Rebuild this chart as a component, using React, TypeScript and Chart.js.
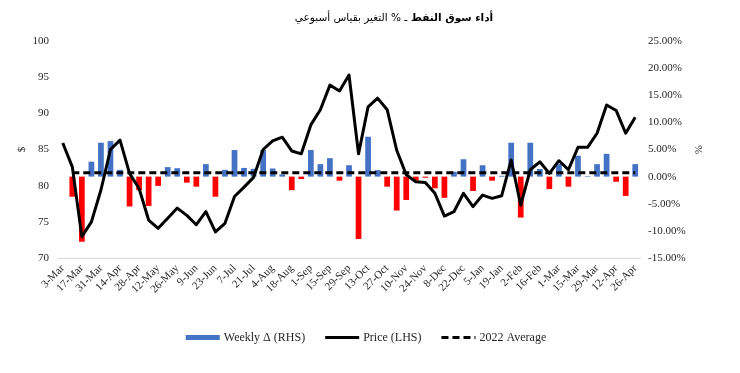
import React, { useEffect, useRef } from 'react';
import { Chart, registerables } from 'chart.js';

Chart.register(...registerables);

// ---- DATA ----
const weekLabels: string[] = [
  '3-Mar', '10-Mar', '17-Mar', '24-Mar', '31-Mar', '7-Apr', '14-Apr', '21-Apr', '28-Apr',
  '5-May', '12-May', '19-May', '26-May', '2-Jun', '9-Jun', '16-Jun', '23-Jun', '30-Jun',
  '7-Jul', '14-Jul', '21-Jul', '28-Jul', '4-Aug', '11-Aug', '18-Aug', '25-Aug',
  '1-Sep', '8-Sep', '15-Sep', '22-Sep', '29-Sep', '6-Oct', '13-Oct', '20-Oct', '27-Oct',
  '3-Nov', '10-Nov', '17-Nov', '24-Nov', '1-Dec', '8-Dec', '15-Dec', '22-Dec', '29-Dec',
  '5-Jan', '12-Jan', '19-Jan', '26-Jan', '2-Feb', '9-Feb', '16-Feb', '23-Feb',
  '1-Mar', '8-Mar', '15-Mar', '22-Mar', '29-Mar', '5-Apr', '12-Apr', '19-Apr', '26-Apr',
];

const price: number[] = [
  85.9, 82.6, 72.95, 75.0, 79.4, 85.0, 86.3, 81.7, 79.6, 75.25,
  74.1, 75.5, 76.9, 75.9, 74.6, 76.4, 73.6, 74.8, 78.5, 79.8,
  81.15, 85.0, 86.2, 86.7, 84.8, 84.4, 88.4, 90.5, 93.9, 93.1,
  95.3, 84.4, 90.9, 92.1, 90.5, 84.9, 81.5, 80.55, 80.45, 78.95,
  75.8, 76.4, 78.95, 77.1, 78.7, 78.25, 78.6, 83.55, 77.3, 82.2,
  83.3, 81.7, 83.45, 82.2, 85.3, 85.3, 87.25, 91.15, 90.4, 87.25,
  89.45,
];

const weeklyChange: (number | null)[] = [
  null,
  -3.7, -12.0, 2.75, 6.25, 6.55, 1.25, -5.5, -2.5, -5.4, -1.7,
  1.75, 1.55, -1.1, -1.85, 2.3, -3.7, 1.25, 4.9, 1.6, 1.45,
  4.9, 1.5, 0.4, -2.5, -0.45, 4.9, 2.3, 3.4, -0.75, 2.1,
  -11.5, 7.35, 1.2, -1.85, -6.25, -4.3, -0.75, -0.2, -2.15, -3.9,
  0.9, 3.2, -2.65, 2.1, -0.75, 0.15, 6.25, -7.55, 6.25, 1.4,
  -2.3, 2.3, -1.85, 3.85, 0.1, 2.3, 4.2, -0.95, -3.55, 2.3,
];

const AVERAGE_2022 = 81.8;
const average2022: (number | null)[] = weekLabels.map((_, i) => (i === 0 ? null : AVERAGE_2022));

const TITLE_BOLD = 'أداء سوق النفط';
const TITLE_REST = 'ـ % التغير بقياس أسبوعي';
const LEGEND_LABELS = ['Weekly Δ (RHS)', 'Price (LHS)', '2022 Average'];
const LEFT_AXIS_TITLE = '$';
const RIGHT_AXIS_TITLE = '%';

const SERIF = '"Liberation Serif", "Times New Roman", serif';
const ARABIC = '"DejaVu Sans", sans-serif';
const BLUE = '#4472C4';
const RED = '#FF0000';
const TEXT = '#262626';

const titlePlugin = {
  id: 'customTitle',
  afterDraw(chart: any) {
    const ctx = chart.ctx as CanvasRenderingContext2D;
    ctx.save();
    ctx.fillStyle = '#000';
    ctx.textBaseline = 'middle';
    (ctx as any).direction = 'rtl';
    ctx.textAlign = 'right';
    const boldFont = 'bold 10.5px ' + ARABIC;
    const normFont = '10.5px ' + ARABIC;
    ctx.font = boldFont;
    const wBold = ctx.measureText(TITLE_BOLD + ' ').width;
    ctx.font = normFont;
    const wRest = ctx.measureText(TITLE_REST).width;
    const total = wBold + wRest;
    const cx = 394;
    const y = 18;
    const xRight = cx + total / 2;
    ctx.font = boldFont;
    ctx.fillText(TITLE_BOLD, xRight, y);
    ctx.font = normFont;
    ctx.fillText(TITLE_REST, xRight - wBold, y);
    ctx.restore();
  },
};

const legendPlugin = {
  id: 'customLegend',
  afterDraw(chart: any) {
    const ctx = chart.ctx as CanvasRenderingContext2D;
    ctx.save();
    ctx.font = '12px ' + SERIF;
    ctx.textBaseline = 'middle';
    ctx.textAlign = 'left';
    const sample = 34;
    const gap = 4;
    const spacing = 20;
    const widths = LEGEND_LABELS.map((t) => ctx.measureText(t).width);
    const total = widths.reduce((a, w) => a + sample + gap + w, 0) + spacing * (LEGEND_LABELS.length - 1);
    let x = 366 - total / 2;
    const y = 337.5;
    LEGEND_LABELS.forEach((label, i) => {
      if (i === 0) {
        ctx.fillStyle = BLUE;
        ctx.fillRect(x, y - 2.5, sample, 5);
      } else {
        ctx.strokeStyle = '#000';
        ctx.lineWidth = 3;
        ctx.setLineDash(i === 2 ? [7, 4] : []);
        ctx.beginPath();
        ctx.moveTo(x, y);
        ctx.lineTo(x + sample, y);
        ctx.stroke();
        ctx.setLineDash([]);
      }
      ctx.fillStyle = TEXT;
      ctx.fillText(label, x + sample + gap, y);
      x += sample + gap + widths[i] + spacing;
    });
    ctx.restore();
  },
};

export default function App() {
  const canvasRef = useRef<HTMLCanvasElement | null>(null);

  useEffect(() => {
    document.body.style.margin = '0';
    const canvas = canvasRef.current;
    if (!canvas) return;
    const chart = new Chart(canvas, {
      type: 'bar',
      data: {
        labels: weekLabels,
        datasets: [
          {
            type: 'line',
            label: 'Price (LHS)',
            data: price,
            yAxisID: 'y',
            borderColor: '#000',
            backgroundColor: '#000',
            borderWidth: 3,
            pointRadius: 0,
            tension: 0,
            fill: false,
            borderJoinStyle: 'round',
            order: 1,
          } as any,
          {
            type: 'line',
            label: '2022 Average',
            data: average2022,
            yAxisID: 'y',
            borderColor: '#000',
            borderWidth: 3,
            borderDash: [7, 4],
            pointRadius: 0,
            fill: false,
            order: 2,
          } as any,
          {
            type: 'bar',
            label: 'Weekly Δ (RHS)',
            data: weeklyChange,
            yAxisID: 'y1',
            backgroundColor: (c: any) => ((c.raw ?? 0) < 0 ? RED : BLUE),
            barPercentage: 0.6,
            categoryPercentage: 1,
            order: 3,
          } as any,
        ],
      },
      options: {
        responsive: false,
        animation: false,
        devicePixelRatio: 1,
        layout: { padding: { top: 41, left: 0, right: 0, bottom: 0 } },
        plugins: {
          legend: { display: false },
          title: { display: false },
          tooltip: { enabled: false },
        },
        scales: {
          x: {
            type: 'category',
            offset: true,
            grid: { display: false, drawTicks: false },
            border: { display: true, color: '#d9d9d9', width: 1 },
            ticks: {
              autoSkip: false,
              maxRotation: 45,
              minRotation: 45,
              padding: 4,
              color: TEXT,
              font: { family: SERIF, size: 11 },
              callback: function (this: any, v: any, i: number) {
                return i % 2 === 0 ? this.getLabelForValue(v) : '';
              },
            },
            afterFit: (s: any) => {
              s.height = 115;
            },
          },
          y: {
            position: 'left',
            min: 70,
            max: 100,
            grid: { display: false, drawTicks: false },
            border: { display: false },
            ticks: { stepSize: 5, padding: 9, color: TEXT, font: { family: SERIF, size: 11 } },
            title: {
              display: true,
              text: LEFT_AXIS_TITLE,
              color: TEXT,
              font: { family: SERIF, size: 11 },
              padding: { top: 16, bottom: 0 },
            },
            afterFit: (s: any) => {
              s.width = 58;
            },
          },
          y1: {
            position: 'right',
            min: -15,
            max: 25,
            grid: { display: false, drawTicks: false },
            border: { display: false },
            ticks: {
              stepSize: 5,
              padding: 8,
              color: TEXT,
              font: { family: SERIF, size: 11 },
              callback: (v: any) => Number(v).toFixed(2) + '%',
            },
            title: {
              display: true,
              text: RIGHT_AXIS_TITLE,
              color: TEXT,
              font: { family: SERIF, size: 11 },
              padding: { top: 36, bottom: 0 },
            },
            afterFit: (s: any) => {
              s.width = 100;
            },
          },
        },
      } as any,
      plugins: [titlePlugin, legendPlugin],
    });
    return () => chart.destroy();
  }, []);

  return (
    <div style={{ width: 740, height: 373 }}>
      <canvas ref={canvasRef} width={740} height={373} style={{ display: 'block' }} />
    </div>
  );
}
